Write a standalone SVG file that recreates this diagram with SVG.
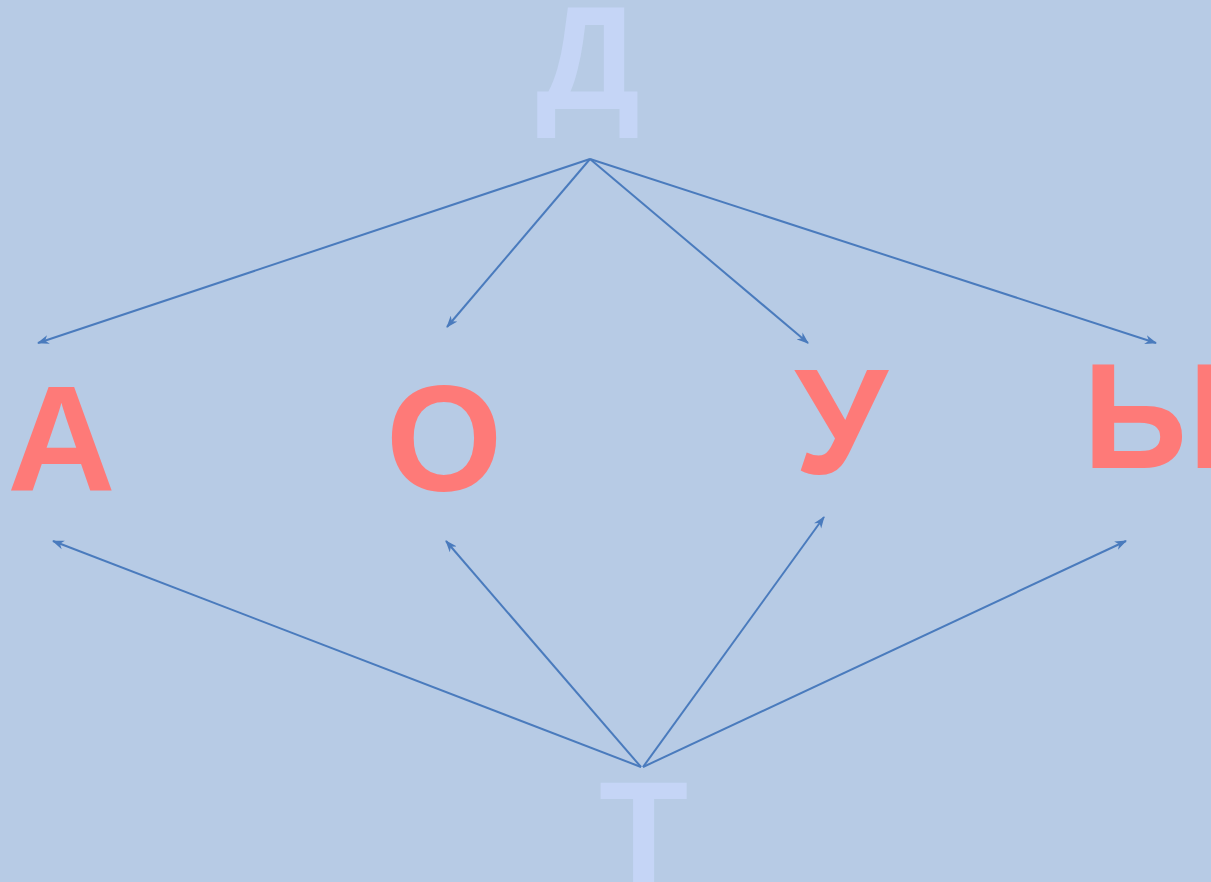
<svg xmlns="http://www.w3.org/2000/svg" width="1211" height="882" viewBox="0 0 1211 882">
<style>
.lt{font-family:"Liberation Sans",Arial,sans-serif;font-weight:bold;font-size:146px;text-anchor:middle;fill:#c5d5f6}
.rd{font-family:"Liberation Sans",Arial,sans-serif;font-weight:bold;font-size:150px;text-anchor:middle;fill:#fe7a78}
.e{stroke:#4a7bbd;stroke-width:2;fill:none;marker-end:url(#ah)}
</style>
<defs>
<marker id="ah" viewBox="0 0 12 10" refX="11" refY="5" markerWidth="12" markerHeight="10" markerUnits="userSpaceOnUse" orient="auto">
<path d="M0,0.5 L12,5 L0,9.5 L3.5,5 Z" fill="#4a7bbd"/>
</marker>
</defs>
<rect width="1211" height="882" fill="#b7cbe5"/>
<g id="edges">
<line class="e" x1="590" y1="159" x2="38" y2="343"/>
<line class="e" x1="590" y1="159" x2="447" y2="327"/>
<line class="e" x1="590" y1="159" x2="808" y2="343"/>
<line class="e" x1="590" y1="159" x2="1156" y2="343"/>
<line class="e" x1="641" y1="767" x2="53" y2="541"/>
<line class="e" x1="641" y1="767" x2="446" y2="541"/>
<line class="e" x1="643" y1="767" x2="824" y2="517"/>
<line class="e" x1="643" y1="767" x2="1126" y2="541"/>
</g>
<g id="n-D"><text class="lt" x="588" y="109">Д</text></g>
<g id="n-A"><text class="rd" x="61.5" y="490">А</text></g>
<g id="n-O"><text class="rd" x="444" y="491">О</text></g>
<g id="n-U"><text class="rd" x="841" y="474">У</text></g>
<g id="n-Y"><text class="rd" x="1156" y="468">Ы</text></g>
<g id="n-T"><text class="lt" x="643.5" y="884">Т</text></g>
</svg>
